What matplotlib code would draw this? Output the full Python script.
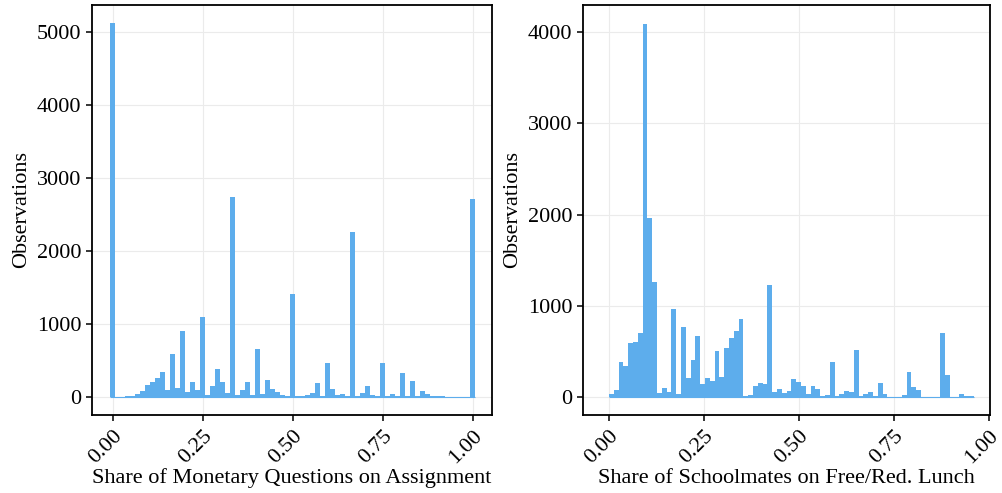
import numpy as np
import matplotlib
matplotlib.use("Agg")
import matplotlib.pyplot as plt

plt.rcParams["font.family"] = ["Liberation Serif", "DejaVu Serif"]

BAR_COLOR = "#5DADEC"

# Share of monetary questions: 73 bins centred on k/72, k = 0..72
share_edges = np.linspace(-1 / 144, 1 + 1 / 144, 74)
share_counts = [
    5120, 4, 4, 8, 18, 45, 87, 160, 205, 265,
    342, 100, 590, 125, 904, 68, 205, 90, 1095, 30,
    146, 388, 205, 60, 2735, 30, 90, 205, 30, 655,
    40, 240, 115, 70, 30, 20, 1408, 10, 20, 30,
    55, 190, 20, 462, 115, 30, 45, 15, 2255, 10,
    55, 155, 30, 10, 472, 20, 45, 8, 330, 20,
    218, 10, 78, 35, 20, 15, 8, 4, 4, 3,
    3, 3, 2712,
]

# Share of schoolmates on free/reduced lunch: 76 bins over [0, 0.96]
lunch_edges = np.linspace(0.0, 0.96, 77)
lunch_counts = [
    30, 80, 383, 336, 591, 600, 700, 4090, 1958, 1257,
    40, 102, 50, 967, 30, 766, 212, 409, 664, 146,
    212, 172, 504, 219, 540, 646, 719, 858, 7, 20,
    117, 157, 139, 1223, 55, 91, 40, 66, 193, 164,
    117, 29, 117, 88, 11, 18, 383, 11, 36, 66,
    55, 515, 11, 29, 55, 7, 153, 29, 5, 5,
    5, 22, 270, 110, 73, 5, 5, 5, 5, 700,
    245, 5, 5, 36, 14, 14,
]

x_ticks = [0.0, 0.25, 0.5, 0.75, 1.0]
x_tick_labels = ["0.00", "0.25", "0.50", "0.75", "1.00"]


def draw_hist(ax, edges, counts, xlim, ylim, yticks, xlabel):
    ax.bar(edges[:-1], counts, width=np.diff(edges), align="edge",
           color=BAR_COLOR, linewidth=0, zorder=2)
    # thin baseline under empty bins
    ax.hlines(0, edges[0], edges[-1], color=BAR_COLOR, linewidth=0.8, zorder=2)
    ax.set_xlim(*xlim)
    ax.set_ylim(*ylim)
    ax.set_xticks(x_ticks)
    ax.set_xticklabels(x_tick_labels, rotation=45, ha="right",
                       rotation_mode="anchor")
    ax.set_yticks(yticks)
    ax.grid(True, color="#EBEBEB", linewidth=0.8, zorder=0)
    ax.set_axisbelow(True)
    ax.tick_params(axis="both", labelsize=16, length=4, width=1.1,
                   color="black", labelcolor="black")
    ax.tick_params(axis="x", pad=4)
    for sp in ax.spines.values():
        sp.set_linewidth(1.3)
        sp.set_color("black")
    ax.set_xlabel(xlabel, fontsize=16, labelpad=1)
    ax.set_ylabel("Observations", fontsize=16, labelpad=4)


fig = plt.figure(figsize=(10.03, 4.93), dpi=100)
W, H = 1003, 493
ax1 = fig.add_axes([92 / W, 1 - 415 / H, 400 / W, 410 / H])
ax2 = fig.add_axes([583 / W, 1 - 415 / H, 407 / W, 410 / H])

draw_hist(ax1, share_edges, share_counts, (-0.0583, 1.0528), (-246, 5370),
          range(0, 5001, 1000), "Share of Monetary Questions on Assignment")
draw_hist(ax2, lunch_edges, lunch_counts, (-0.0684, 1.0026), (-197, 4296),
          range(0, 4001, 1000), "Share of Schoolmates on Free/Red. Lunch")

fig.savefig("out.png", dpi=100)
